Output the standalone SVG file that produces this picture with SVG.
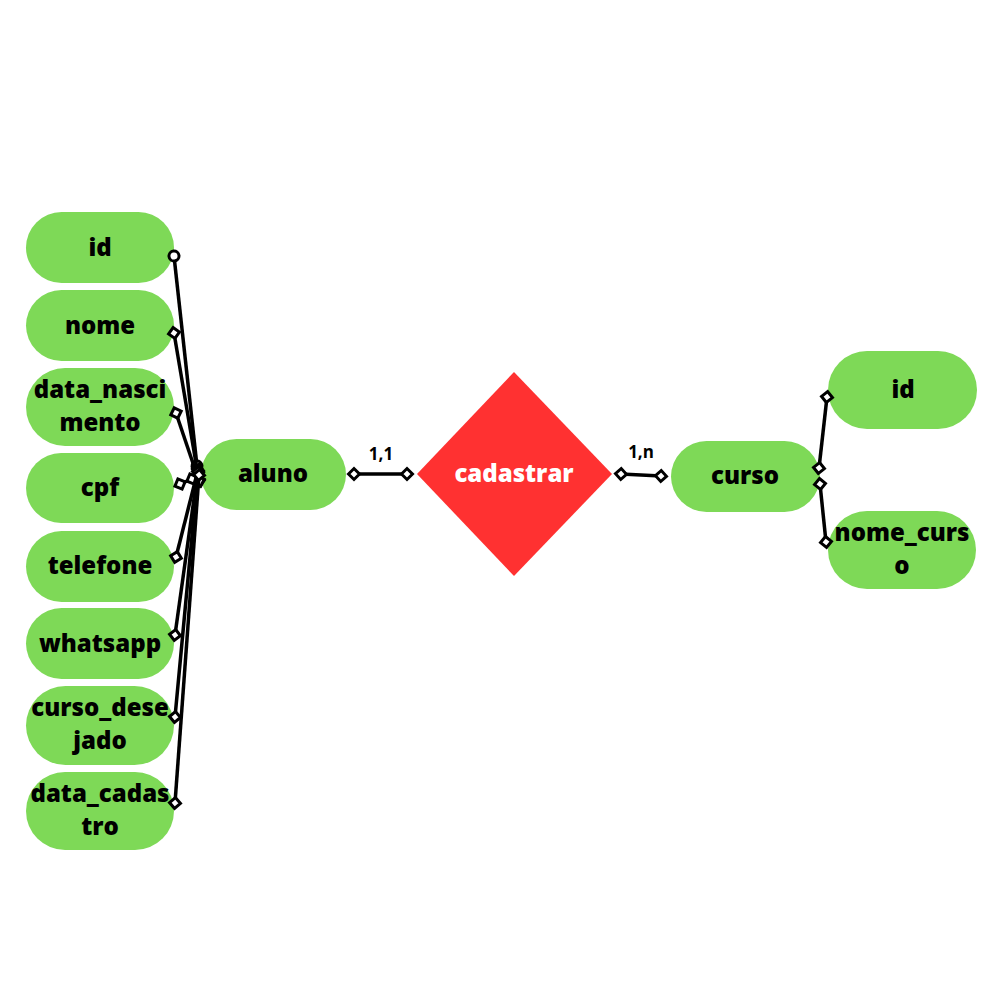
<svg xmlns="http://www.w3.org/2000/svg" width="1000" height="1000" viewBox="0 0 1000 1000">
<style>
.ent{fill:#7ED957}
.rel{fill:#FF3131}
.t{font-family:"Open Sans","Liberation Sans",sans-serif;font-weight:800;font-size:24px;fill:#000;text-anchor:middle}
.tw{fill:#fff}
.lbl{font-family:"Open Sans","Liberation Sans",sans-serif;font-weight:700;font-size:17px;fill:#000;text-anchor:middle}
.c{stroke:#000;stroke-width:3.5;fill:none}
.d{marker-start:url(#dm);marker-end:url(#dm)}
</style>
<defs>
<marker id="dm" viewBox="-9 -9 18 18" markerWidth="18" markerHeight="18" markerUnits="userSpaceOnUse" orient="auto">
<path d="M-5.5,0 L0,-5.5 L5.5,0 L0,5.5 Z" fill="#fff" stroke="#000" stroke-width="3"/>
</marker>
<marker id="cm" viewBox="-9 -9 18 18" markerWidth="18" markerHeight="18" markerUnits="userSpaceOnUse" orient="auto">
<circle r="5" fill="#fff" stroke="#000" stroke-width="3"/>
</marker>
</defs>
<rect width="1000" height="1000" fill="#fff"/>
<g id="n-id"><rect class="ent" x="26" y="212" width="148" height="71" rx="35.5"/><text class="t" x="100" y="256">id</text></g>
<g id="n-nome"><rect class="ent" x="26" y="290" width="148" height="71" rx="35.5"/><text class="t" x="100" y="334">nome</text></g>
<g id="n-data_nascimento"><rect class="ent" x="26" y="368" width="148" height="78" rx="39"/><text class="t" x="100" y="398">data_nasci</text><text class="t" x="100" y="431">mento</text></g>
<g id="n-cpf"><rect class="ent" x="26" y="453" width="148" height="70" rx="35"/><text class="t" x="100" y="496">cpf</text></g>
<g id="n-telefone"><rect class="ent" x="26" y="531" width="148" height="71" rx="35.5"/><text class="t" x="100" y="574">telefone</text></g>
<g id="n-whatsapp"><rect class="ent" x="26" y="608" width="148" height="71" rx="35.5"/><text class="t" x="100" y="652">whatsapp</text></g>
<g id="n-curso_desejado"><rect class="ent" x="26" y="686" width="148" height="79" rx="39.5"/><text class="t" x="100" y="716">curso_dese</text><text class="t" x="100" y="749">jado</text></g>
<g id="n-data_cadastro"><rect class="ent" x="26" y="772" width="148" height="78" rx="39"/><text class="t" x="100" y="802">data_cadas</text><text class="t" x="100" y="835">tro</text></g>
<g id="n-aluno"><rect class="ent" x="201" y="439" width="145" height="71" rx="35.5"/><text class="t" x="273" y="482">aluno</text></g>
<g id="n-cadastrar"><polygon class="rel" points="514,372 612,474 514,576 417,474"/><text class="t tw" x="514" y="482">cadastrar</text></g>
<g id="n-curso"><rect class="ent" x="671" y="441" width="149" height="71" rx="35.5"/><text class="t" x="745" y="484">curso</text></g>
<g id="n-curso-id"><rect class="ent" x="828" y="351" width="149" height="78" rx="39"/><text class="t" x="903" y="398">id</text></g>
<g id="n-nome_curso"><rect class="ent" x="828" y="511" width="148" height="78" rx="39"/><text class="t" x="902" y="541">nome_curs</text><text class="t" x="902" y="574">o</text></g>
<g id="connectors">
<line class="c" x1="174" y1="256" x2="197" y2="466" marker-start="url(#cm)" marker-end="url(#cm)"/>
<line class="c d" x1="174" y1="333" x2="199" y2="481"/>
<line class="c d" x1="176" y1="413" x2="199" y2="481"/>
<line class="c d" x1="180" y1="484" x2="192" y2="479"/>
<line class="c d" x1="176" y1="557" x2="198" y2="470"/>
<line class="c d" x1="175" y1="635" x2="198" y2="470"/>
<line class="c d" x1="175" y1="717" x2="198" y2="472"/>
<line class="c d" x1="175" y1="803" x2="199" y2="475"/>
<line class="c d" x1="354" y1="474" x2="407" y2="474"/>
<line class="c d" x1="621" y1="474" x2="661" y2="476"/>
<line class="c d" x1="819" y1="468" x2="827" y2="397"/>
<line class="c d" x1="820" y1="484" x2="826" y2="542"/>
<text class="lbl" x="381" y="460">1,1</text>
<text class="lbl" x="641" y="458">1,n</text>
</g>
</svg>
